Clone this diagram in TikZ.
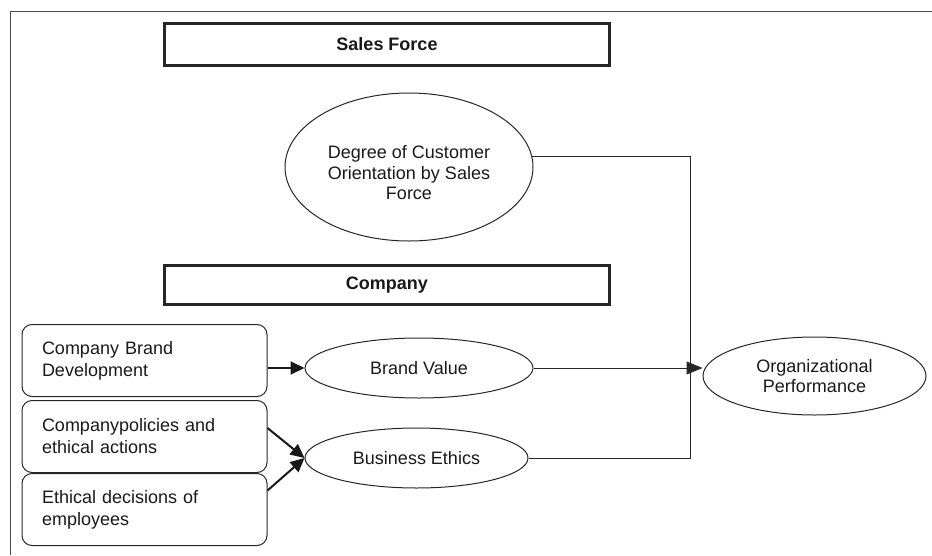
\documentclass[tikz,border=0pt]{standalone}
\usepackage{fontspec}
\setmainfont{Liberation Sans}
\usepackage{tikz}
\usetikzlibrary{positioning, arrows.meta, shapes.geometric}
\tikzset{
    head_style/.style={
        rectangle,            % 标题框为直角矩形
        draw=black!85,        % 边框颜色
        line width=3pt,       % 边框加粗
        fill=white,           % 填充颜色
        minimum width=445pt,  % 标题框宽度
        text=black!90,        % 文字颜色
        font=\bfseries\fontsize{18}{21}\selectfont  % 粗体文字
    },
    oval_style/.style={
        ellipse,              % 节点形状为椭圆
        draw=black!85,        % 边框颜色
        line width=1pt,       % 细边框
        inner sep=0pt,
        align=center,         % 多行文字居中
        text=black!90,
        font=\fontsize{18}{20.5}\selectfont
    },
    factor_style/.style={
        rectangle,            % 圆角矩形
        rounded corners=10pt, % 圆角半径
        draw=black!85,
        line width=1pt,
        text width=205pt,     % 文字宽度
        inner xsep=20pt,      % 左右留白
        minimum height=72pt,  % 框的高度
        align=left,           % 文字左对齐
        text=black!90,
        font=\fontsize{18}{22}\selectfont
    },
    arrow_style/.style={
        -{Triangle[length=14pt, width=13pt]},  % 实心三角箭头
        line width=2pt,       % 箭头线条加粗
        draw=black!90
    },
    line_style/.style={
        line width=1pt,       % 细连线
        draw=black!85
    },
    frame_style/.style={
        line width=1pt,       % 外框线
        draw=black!70
    }
}
\begin{document}
\begin{tikzpicture}[x=1pt, y=-1pt, node distance=3pt]
    \useasboundingbox (0,0) rectangle (932,555);
    % 1. 外框 (左边和上边)
    \draw[frame_style] (10,555) |- (932,11.7);

    % 2. 两个标题框
    \node[head_style, minimum height=42pt] (sales) at (387,44.5) {Sales Force};
    \node[head_style, minimum height=39pt] (company) at (387,285) {Company};

    % 3. 椭圆节点 (第一行加高, 文字略往下)
    \node[oval_style, minimum width=248pt, minimum height=148pt] (degree) at (409,167)
        {\rule{0pt}{25pt}Degree of Customer\\Orientation by Sales\\Force};
    \node[oval_style, minimum width=228pt, minimum height=60pt] (brand) at (419,368) {Brand Value};
    \node[oval_style, minimum width=223pt, minimum height=60pt] (ethics) at (416.5,458) {Business Ethics};
    \node[oval_style, minimum width=223pt, minimum height=78pt] (perf) at (814.5,376)
        {Organizational\\Performance};

    % 4. 左侧圆角框 (依次向下排列)
    \node[factor_style] (brand_dev) at (144.5,360.5) {Company Brand\\Development};
    \node[factor_style, below=of brand_dev] (policies) {Companypolicies and\\ethical actions};
    \node[factor_style, below=0pt of policies] (decisions) {Ethical decisions of\\employees};

    % 5. 左侧框 -> 椭圆的粗箭头
    \draw[arrow_style] (brand_dev.east |- brand.west) -- (brand.west);
    \draw[arrow_style] ([yshift=8.5pt]policies.east) -- (ethics.west);
    \draw[arrow_style] ([yshift=19pt]decisions.east) -- (ethics.west);

    % 6. 汇总到 Organizational Performance 的连线
    \coordinate (joint) at (690,458);
    \draw[line_style] (degree.5) -| (joint) -- (ethics.east);
    \draw[line_style, -{Triangle[length=16pt, width=13pt]}] (brand.east) -- (brand.east -| perf.west);
\end{tikzpicture}
\end{document}
